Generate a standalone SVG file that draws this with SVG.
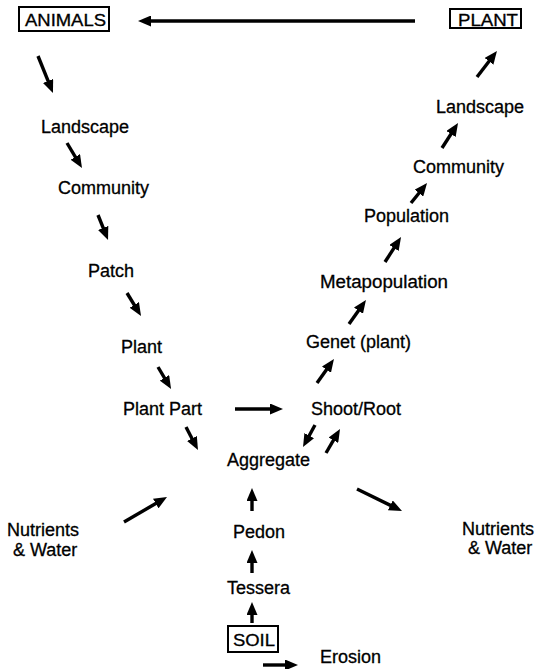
<svg xmlns="http://www.w3.org/2000/svg" width="541" height="669" viewBox="0 0 541 669">
<style>
text{font-family:"Liberation Sans",Arial,sans-serif;font-size:18px;fill:#000;stroke:#000;stroke-width:0.3}
.bx{font-size:16px}
.box{fill:none;stroke:#000;stroke-width:2}
#connectors line{stroke:#000;stroke-width:3.4;marker-end:url(#ah)}
</style>
<defs>
<marker id="ah" viewBox="0 0 13 11" refX="7" refY="5.5" markerUnits="userSpaceOnUse" markerWidth="13" markerHeight="11" orient="auto">
<path d="M0,0 L13,5.5 L0,11 z" fill="#000"/>
</marker>
</defs>
<rect width="541" height="669" fill="#fff"/>
<g id="animals"><rect class="box" x="19" y="7" width="90" height="24"/><text class="bx" x="25" y="26" textLength="81" lengthAdjust="spacingAndGlyphs">ANIMALS</text></g>
<g id="plant-top"><rect class="box" x="450" y="9" width="71" height="19"/><text class="bx" x="458" y="26" textLength="60" lengthAdjust="spacingAndGlyphs">PLANT</text></g>
<g id="soil"><rect class="box" x="228" y="626" width="50" height="26"/><text class="bx" x="233" y="646" textLength="42" lengthAdjust="spacingAndGlyphs">SOIL</text></g>
<g id="landscape-l"><text x="41" y="133">Landscape</text></g>
<g id="community-l"><text x="58" y="194">Community</text></g>
<g id="patch"><text x="88" y="277">Patch</text></g>
<g id="plant"><text x="121" y="353">Plant</text></g>
<g id="plant-part"><text x="123" y="415">Plant Part</text></g>
<g id="shoot-root"><text x="311" y="415">Shoot/Root</text></g>
<g id="genet"><text x="306" y="348">Genet (plant)</text></g>
<g id="metapopulation"><text x="320" y="288" textLength="128" lengthAdjust="spacingAndGlyphs">Metapopulation</text></g>
<g id="population"><text x="364" y="222">Population</text></g>
<g id="community-r"><text x="413" y="173">Community</text></g>
<g id="landscape-r"><text x="436" y="113">Landscape</text></g>
<g id="aggregate"><text x="227" y="466">Aggregate</text></g>
<g id="nutrients-l"><text x="7" y="536">Nutrients</text><text x="13" y="556">&amp; Water</text></g>
<g id="nutrients-r"><text x="462" y="535">Nutrients</text><text x="468" y="554">&amp; Water</text></g>
<g id="pedon"><text x="233" y="538">Pedon</text></g>
<g id="tessera"><text x="227" y="594">Tessera</text></g>
<g id="erosion"><text x="320" y="663">Erosion</text></g>
<g id="connectors">
<line x1="415" y1="21" x2="144" y2="21"/>
<line x1="38" y1="56" x2="50.7" y2="87.4"/>
<line x1="67" y1="143" x2="78.9" y2="162.9"/>
<line x1="98" y1="215" x2="105.8" y2="234.4"/>
<line x1="127" y1="293" x2="137.9" y2="310.9"/>
<line x1="158" y1="367" x2="168" y2="383.8"/>
<line x1="186" y1="427" x2="195.2" y2="444.7"/>
<line x1="235" y1="409" x2="277" y2="409"/>
<line x1="315" y1="425" x2="305.9" y2="441.7"/>
<line x1="326" y1="453" x2="337" y2="434.2"/>
<line x1="317" y1="383" x2="330.5" y2="363.9"/>
<line x1="349" y1="324" x2="362.5" y2="304.9"/>
<line x1="385" y1="262" x2="397.8" y2="242.1"/>
<line x1="411" y1="203" x2="423.3" y2="187.7"/>
<line x1="442" y1="148" x2="454.8" y2="128.1"/>
<line x1="477" y1="77" x2="493.3" y2="55.8"/>
<line x1="124" y1="522" x2="161.8" y2="500"/>
<line x1="357" y1="489" x2="396.6" y2="508.4"/>
<line x1="252" y1="511" x2="252" y2="494"/>
<line x1="252" y1="573" x2="252" y2="556"/>
<line x1="252" y1="623" x2="252" y2="608"/>
<line x1="263" y1="665" x2="292" y2="665"/>
</g>
</svg>
